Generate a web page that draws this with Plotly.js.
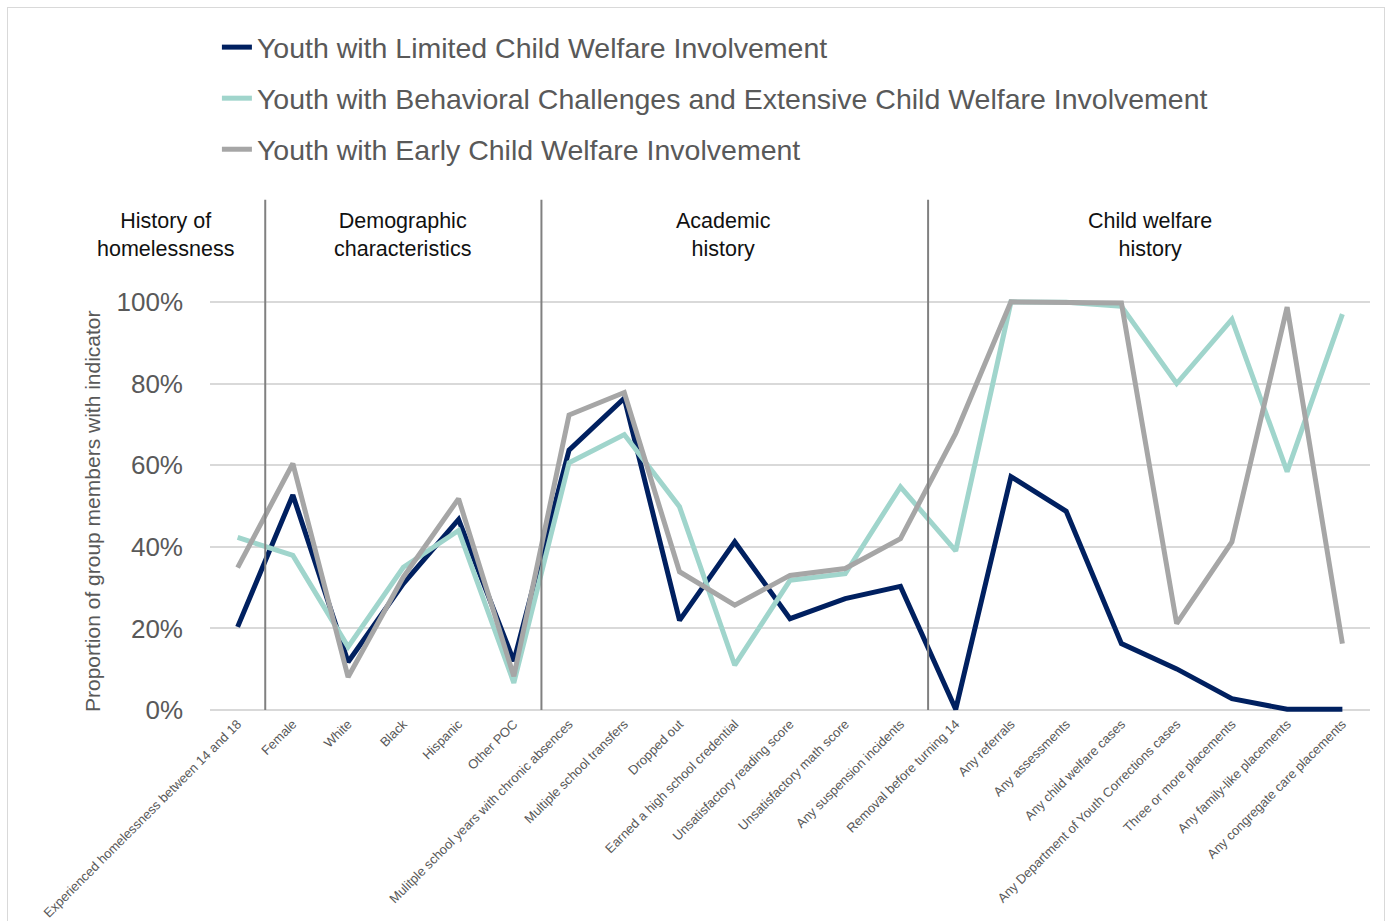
<!DOCTYPE html>
<html>
<head>
<meta charset="utf-8">
<script src="https://cdn.plot.ly/plotly-3.0.1.min.js"></script>
<style>
  html, body { margin: 0; padding: 0; background: #ffffff; }
  #chart { width: 1386px; height: 921px; }
  #frame { position: absolute; left: 7px; top: 7px; width: 1378px; height: 920px;
           border: 1px solid #d9d9d9; pointer-events: none; box-sizing: border-box; }
</style>
</head>
<body>
<div id="chart"></div>
<div id="frame"></div>
<script>
const categories = [
  "Experienced homelessness between 14 and 18",
  "Female", "White", "Black", "Hispanic", "Other POC",
  "Mulitple school years with chronic absences",
  "Multiple school transfers", "Dropped out",
  "Earned a high school credential",
  "Unsatisfactory reading score", "Unsatisfactory math score",
  "Any suspension incidents", "Removal before turning 14",
  "Any referrals", "Any assessments", "Any child welfare cases",
  "Any Department of Youth Corrections cases",
  "Three or more placements", "Any family-like placements",
  "Any congregate care placements"
];

const seriesNames = [
  "Youth with Limited Child Welfare Involvement",
  "Youth with Behavioral Challenges and Extensive Child Welfare Involvement",
  "Youth with Early Child Welfare Involvement"
];

const limitedValues = [20.4, 52.7, 11.8, 31.0, 46.7, 12.0, 63.7, 76.4, 22.0, 41.2, 22.4, 27.3, 30.3, 0.2, 57.2, 48.7, 16.3, 10.1, 2.8, 0.2, 0.2];
const behavioralValues = [42.3, 37.9, 15.5, 35.0, 44.0, 6.7, 60.6, 67.5, 49.8, 11.0, 31.8, 33.4, 54.7, 39.0, 100.0, 99.9, 98.9, 80.0, 95.7, 58.4, 97.0];
const earlyValues = [34.9, 60.4, 8.1, 32.6, 51.8, 8.3, 72.3, 77.8, 33.9, 25.7, 33.0, 34.7, 42.0, 67.8, 100.0, 100.0, 99.7, 21.2, 41.2, 98.7, 16.3];

const sectionLabels = ["History of<br>homelessness", "Demographic<br>characteristics", "Academic<br>history", "Child welfare<br>history"];
const sectionDividers = [0.5, 5.5, 12.5];
const yTitle = "Proportion of group members with indicator";

const seriesColors = ["#002060", "#A0D5CC", "#A6A6A6"];
const seriesValues = [limitedValues, behavioralValues, earlyValues];

const traces = seriesValues.map((vals, i) => ({
  type: "scatter",
  mode: "lines",
  x: categories,
  y: vals,
  name: seriesNames[i],
  legendgroup: "g" + i,
  line: { color: seriesColors[i], width: 5 },
  hoverinfo: "skip"
}));

const sectionX = [-0.0383, 0.1661, 0.4430, 0.8106];

const annotations = sectionLabels.map((t, i) => ({
  text: t,
  xref: "paper", yref: "paper",
  x: sectionX[i], y: 1.154,
  xanchor: "center", yanchor: "middle",
  showarrow: false,
  font: { family: "Liberation Sans, Arial, sans-serif", size: 21.5, color: "#111111" }
}));

annotations.push({
  text: yTitle,
  xref: "paper", yref: "paper",
  x: -0.1018, y: 0.4877,
  xanchor: "center", yanchor: "middle",
  textangle: -90,
  showarrow: false,
  font: { family: "Liberation Sans, Arial, sans-serif", size: 21, color: "#595959" }
});

const shapes = sectionDividers.map(d => ({
  type: "line",
  xref: "x", yref: "paper",
  x0: d, x1: d, y0: 0.007, y1: 1.24,
  line: { color: "#808080", width: 2 },
  layer: "above"
}));

const layout = {
  width: 1386, height: 921,
  paper_bgcolor: "#ffffff", plot_bgcolor: "#ffffff",
  margin: { l: 210, r: 16, t: 299, b: 208, autoexpand: false },
  font: { family: "Liberation Sans, Arial, sans-serif", color: "#595959" },
  showlegend: true,
  legend: {
    xref: "container", yref: "container",
    x: 0.1565, y: 0.976, xanchor: "left", yanchor: "top",
    orientation: "v",
    tracegroupgap: 11,
    font: { size: 28.5, color: "#595959" },
    bgcolor: "rgba(0,0,0,0)"
  },
  xaxis: {
    type: "category",
    range: [-0.5, 20.5],
    tickangle: -45,
    tickfont: { size: 13, color: "#595959" },
    showgrid: false, zeroline: false, showline: false, ticks: "",
    automargin: false
  },
  yaxis: {
    range: [-0.7, 100.7],
    dtick: 20,
    tick0: 0,
    ticksuffix: "%",
    tickfont: { size: 26, color: "#595959" },
    gridcolor: "#d9d9d9", gridwidth: 2,
    zeroline: true, zerolinecolor: "#d9d9d9", zerolinewidth: 2,
    showline: false, ticks: "",
    ticklabelstandoff: 26,
    automargin: false
  },
  annotations: annotations,
  shapes: shapes
};

Plotly.newPlot("chart", traces, layout, { displayModeBar: false, staticPlot: true });
</script>
</body>
</html>
